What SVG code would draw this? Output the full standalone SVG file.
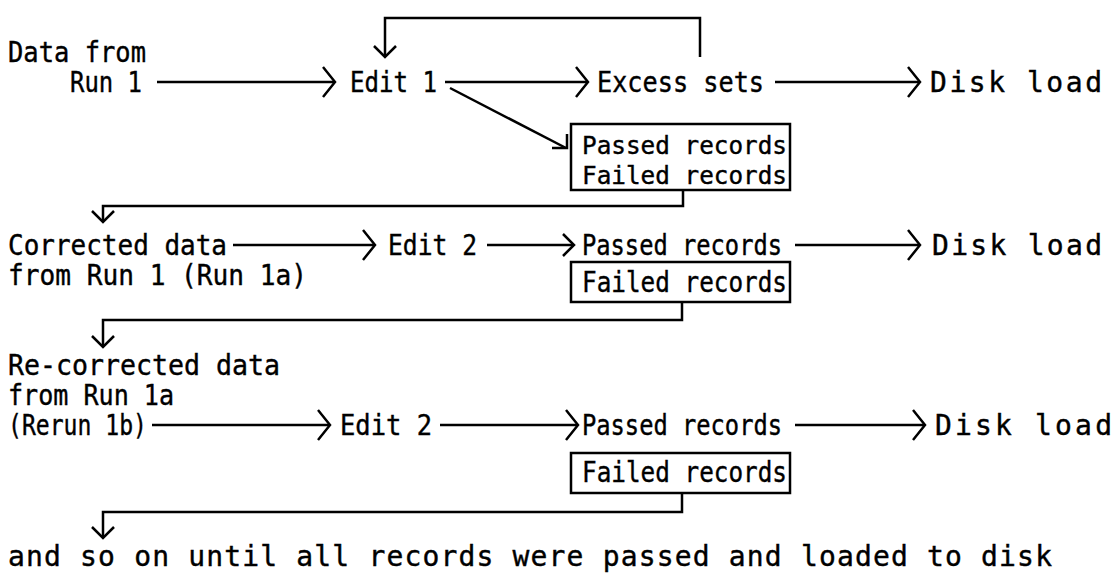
<svg xmlns="http://www.w3.org/2000/svg" width="1116" height="573" viewBox="0 0 1116 573">
  <style>
    text { font-family: "DejaVu Sans Mono", "Liberation Mono", monospace; font-size: 28px; fill: #000; stroke: #000; stroke-width: 0.4; }
    text.pair { font-size: 25px; }
    .ln { fill: none; stroke: #000; stroke-width: 2.5; stroke-linejoin: miter; }
    .box { fill: #fff; stroke: #000; stroke-width: 2.5; }
  </style>
  <defs>
    <marker id="chev" viewBox="-16 -17 18 34" markerWidth="18" markerHeight="34" refX="0" refY="0" orient="auto" markerUnits="userSpaceOnUse">
      <path d="M-12,-15 L0,0 L-12,15" fill="none" stroke="#000" stroke-width="2.5"/>
    </marker>
    <marker id="chevS" viewBox="-14 -14 16 28" markerWidth="16" markerHeight="28" refX="0" refY="0" orient="auto" markerUnits="userSpaceOnUse">
      <path d="M-11,-11 L0,0 L-11,11" fill="none" stroke="#000" stroke-width="2.5"/>
    </marker>
  </defs>

  <!-- flow lines -->
  <g id="connectors">
    <!-- stage 1 -->
    <line class="ln" x1="157" y1="82" x2="335" y2="82" marker-end="url(#chev)"/>
    <line class="ln" x1="445" y1="82" x2="588" y2="82" marker-end="url(#chev)"/>
    <line class="ln" x1="775" y1="82" x2="920" y2="82" marker-end="url(#chev)"/>
    <path class="ln" d="M700,57 V18 H385 V57" marker-end="url(#chevS)"/>
    <line class="ln" x1="450" y1="88" x2="566" y2="148"/>
    <path class="ln" d="M552,148 H567 V134"/>
    <path class="ln" d="M683,190 V206 H103 V222" marker-end="url(#chevS)"/>
    <!-- stage 2 -->
    <line class="ln" x1="233" y1="245" x2="375" y2="245" marker-end="url(#chev)"/>
    <line class="ln" x1="487" y1="245" x2="574" y2="245" marker-end="url(#chevS)"/>
    <line class="ln" x1="795" y1="245" x2="920" y2="245" marker-end="url(#chev)"/>
    <path class="ln" d="M682,302 V320 H103 V347" marker-end="url(#chevS)"/>
    <!-- stage 3 -->
    <line class="ln" x1="152" y1="425" x2="330" y2="425" marker-end="url(#chev)"/>
    <line class="ln" x1="440" y1="425" x2="578" y2="425" marker-end="url(#chev)"/>
    <line class="ln" x1="795" y1="425" x2="925" y2="425" marker-end="url(#chev)"/>
    <path class="ln" d="M682,493 V512 H103 V538" marker-end="url(#chevS)"/>
  </g>

  <!-- stage 1 -->
  <g id="run1">
    <text x="8" y="62" textLength="138" lengthAdjust="spacingAndGlyphs">Data from</text>
    <text x="70" y="92" textLength="72" lengthAdjust="spacingAndGlyphs">Run 1</text>
  </g>
  <g id="edit1">
    <text x="350" y="92" textLength="87" lengthAdjust="spacingAndGlyphs">Edit 1</text>
  </g>
  <g id="excess">
    <text x="597" y="92" textLength="167" lengthAdjust="spacingAndGlyphs">Excess sets</text>
  </g>
  <g id="disk1">
    <text x="930" y="92" textLength="172" lengthAdjust="spacing">Disk load</text>
  </g>
  <g id="result1">
    <rect class="box" x="571" y="124" width="219" height="66"/>
    <text class="pair" x="582" y="154" textLength="205" lengthAdjust="spacingAndGlyphs">Passed records</text>
    <text class="pair" x="582" y="184" textLength="205" lengthAdjust="spacingAndGlyphs">Failed records</text>
  </g>

  <!-- stage 2 -->
  <g id="run1a">
    <text x="8" y="255" textLength="219" lengthAdjust="spacingAndGlyphs">Corrected data</text>
    <text x="8" y="285" textLength="299" lengthAdjust="spacingAndGlyphs">from Run 1 (Run 1a)</text>
  </g>
  <g id="edit2a">
    <text x="388" y="255" textLength="89" lengthAdjust="spacingAndGlyphs">Edit 2</text>
  </g>
  <g id="passed2">
    <text x="582" y="255" textLength="200" lengthAdjust="spacingAndGlyphs">Passed records</text>
  </g>
  <g id="disk2">
    <text x="932" y="255" textLength="170" lengthAdjust="spacing">Disk load</text>
  </g>
  <g id="failed2">
    <rect class="box" x="571" y="262" width="219" height="40"/>
    <text x="582" y="292" textLength="205" lengthAdjust="spacingAndGlyphs">Failed records</text>
  </g>

  <!-- stage 3 -->
  <g id="run1b">
    <text x="8" y="375" textLength="272" lengthAdjust="spacingAndGlyphs">Re-corrected data</text>
    <text x="8" y="405" textLength="166" lengthAdjust="spacingAndGlyphs">from Run 1a</text>
    <text x="8" y="435" textLength="139" lengthAdjust="spacingAndGlyphs">(Rerun 1b)</text>
  </g>
  <g id="edit2b">
    <text x="340" y="435" textLength="92" lengthAdjust="spacingAndGlyphs">Edit 2</text>
  </g>
  <g id="passed3">
    <text x="582" y="435" textLength="200" lengthAdjust="spacingAndGlyphs">Passed records</text>
  </g>
  <g id="disk3">
    <text x="935" y="435" textLength="177" lengthAdjust="spacing">Disk load</text>
  </g>
  <g id="failed3">
    <rect class="box" x="571" y="453" width="219" height="40"/>
    <text x="582" y="482" textLength="205" lengthAdjust="spacingAndGlyphs">Failed records</text>
  </g>

  <g id="note">
    <text x="8" y="566" textLength="1044" lengthAdjust="spacing">and so on until all records were passed and loaded to disk</text>
  </g>
</svg>
